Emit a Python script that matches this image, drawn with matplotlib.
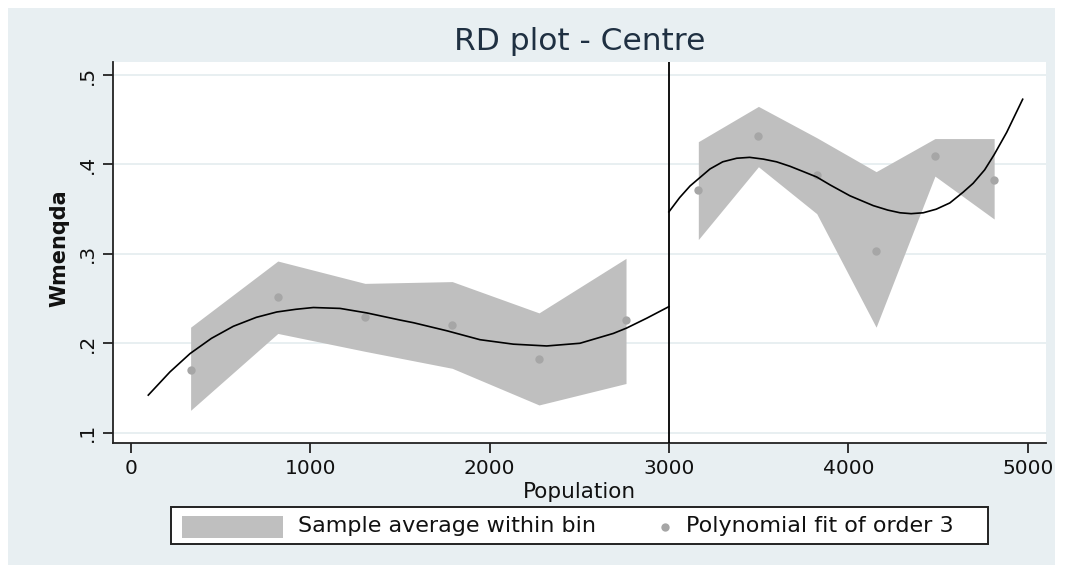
import numpy as np
import matplotlib
matplotlib.use("Agg")
import matplotlib.pyplot as plt
from matplotlib.patches import Rectangle
from matplotlib.lines import Line2D

# bin averages and band (left of cutoff)
left_x = [334, 820, 1306, 1792, 2276, 2761]
left_mean = [0.170, 0.252, 0.229, 0.2205, 0.182, 0.226]
left_lo = [0.125, 0.211, 0.191, 0.172, 0.131, 0.155]
left_hi = [0.218, 0.292, 0.267, 0.269, 0.234, 0.295]

# bin averages and band (right of cutoff)
right_x = [3164, 3499, 3824, 4155, 4483, 4813]
right_mean = [0.371, 0.432, 0.388, 0.303, 0.4095, 0.383]
right_lo = [0.316, 0.3975, 0.345, 0.218, 0.387, 0.339]
right_hi = [0.4255, 0.465, 0.430, 0.392, 0.429, 0.429]

# polynomial fit
fit_left_x = [98, 219, 331, 450, 572, 700, 814, 920, 1018, 1167, 1315, 1501, 1576,
              1762, 1947, 2133, 2319, 2504, 2690, 2764, 2876, 3000]
fit_left_y = [0.142, 0.168, 0.1885, 0.2055, 0.219, 0.229, 0.235, 0.238, 0.240, 0.239,
              0.234, 0.226, 0.223, 0.214, 0.204, 0.199, 0.197, 0.200, 0.211, 0.217,
              0.228, 0.241]
fit_right_x = [3000, 3060, 3118, 3229, 3300, 3378, 3450, 3527, 3600, 3675, 3750, 3824,
               3900, 4009, 4139, 4220, 4288, 4350, 4418, 4490, 4566, 4640, 4696, 4760,
               4813, 4883, 4972]
fit_right_y = [0.347, 0.363, 0.376, 0.395, 0.403, 0.407, 0.408, 0.406, 0.403, 0.398,
               0.392, 0.386, 0.377, 0.365, 0.354, 0.349, 0.346, 0.345, 0.346, 0.350,
               0.357, 0.369, 0.379, 0.394, 0.411, 0.436, 0.473]

cutoff = 3000
xticks = [0, 1000, 2000, 3000, 4000, 5000]
yticks = [0.1, 0.2, 0.3, 0.4, 0.5]
ytick_labels = [".1", ".2", ".3", ".4", ".5"]

W, H = 1067, 565
band_col = "#bfbfbf"
dot_col = "#a6a6a6"
bg_col = "#e8eff2"

fig = plt.figure(figsize=(W / 100, H / 100), dpi=100)
fig.patch.set_facecolor("white")
fig.patches.append(Rectangle((8 / W, 0), (1055 - 8) / W, 1 - 8 / H,
                             transform=fig.transFigure, facecolor=bg_col,
                             edgecolor="none", zorder=-1))

ax = fig.add_axes([113.3 / W, 1 - 443.3 / H, (1046 - 113.3) / W, 381.6 / H])
ax.set_facecolor("white")

ax.fill_between(left_x, left_lo, left_hi, color=band_col, lw=0, zorder=2)
ax.fill_between(right_x, right_lo, right_hi, color=band_col, lw=0, zorder=2)
ax.plot(left_x, left_mean, "o", color=dot_col, ms=6, mew=0, zorder=3)
ax.plot(right_x, right_mean, "o", color=dot_col, ms=6, mew=0, zorder=3)
ax.plot(fit_left_x, fit_left_y, color="black", lw=1.2, zorder=4)
ax.plot(fit_right_x, fit_right_y, color="black", lw=1.2, zorder=4)
ax.axvline(cutoff, color="black", lw=1.3, zorder=5)

ax.set_xlim(-97, 5102)
ax.set_ylim(0.0881, 0.515)
ax.set_xticks(xticks)
ax.set_yticks(yticks)
ax.set_yticklabels(ytick_labels)
ax.yaxis.grid(True, color="#e6eef0", lw=1.3, zorder=1)
ax.set_axisbelow(True)

for s in ["top", "right"]:
    ax.spines[s].set_visible(False)
for s in ["left", "bottom"]:
    ax.spines[s].set_linewidth(1.3)
    ax.spines[s].set_color("#222222")

ax.tick_params(axis="both", length=7.5, width=1.3, color="#222222", labelsize=14.5,
               labelcolor="#111111")
ax.tick_params(axis="x", pad=4)
ax.tick_params(axis="y", pad=4, labelrotation=90)
for lab in ax.get_yticklabels():
    lab.set_va("center")

ax.set_xlabel("Population", fontsize=15.5, color="#111111")
ax.xaxis.set_label_coords(0.5, -0.127)
ax.xaxis.label.set_va("center")
ax.set_ylabel("Wmenqda", fontsize=15, fontweight="bold", color="#111111")
ax.yaxis.set_label_coords(-0.058, 0.51)
ax.yaxis.label.set_va("center")

fig.text(580 / W, 1 - 42 / H, "RD plot - Centre", fontsize=22.5, color="#1f3042",
         ha="center", va="center")

# legend box drawn by hand to keep Stata-like spacing
fig.patches.append(Rectangle((170.5 / W, 1 - 544 / H), (988 - 170.5) / W, 37 / H,
                             transform=fig.transFigure, facecolor="white",
                             edgecolor="#222222", lw=1.4, zorder=5))
fig.patches.append(Rectangle((181.5 / W, 1 - 537.5 / H), 101.5 / W, 21.5 / H,
                             transform=fig.transFigure, facecolor=band_col,
                             edgecolor="none", zorder=6))
fig.text(298 / W, 1 - 526.5 / H, "Sample average within bin", fontsize=16,
         color="#111111", ha="left", va="center", zorder=7)
fig.add_artist(Line2D([665.3 / W], [1 - 526.7 / H], marker="o", color=dot_col,
                      ms=6, mew=0, transform=fig.transFigure, zorder=7))
fig.text(686 / W, 1 - 526.5 / H, "Polynomial fit of order 3", fontsize=16,
         color="#111111", ha="left", va="center", zorder=7)

fig.savefig("out.png", dpi=100, facecolor=fig.get_facecolor())
